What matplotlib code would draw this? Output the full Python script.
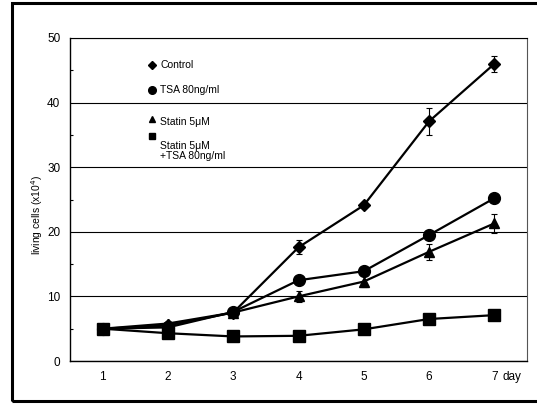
import matplotlib.pyplot as plt
import numpy as np

plt.rcParams['font.family'] = ['Liberation Sans', 'DejaVu Sans']

# days and living cell counts (x10^4)
days = [1, 2, 3, 4, 5, 6, 7]
control = [5.0, 5.5, 7.5, 17.6, 24.1, 37.1, 46.0]
control_err = [0.2, 0.3, 0.3, 1.1, 0.4, 2.1, 1.2]
tsa = [5.0, 5.2, 7.6, 12.5, 13.9, 19.5, 25.2]
tsa_err = [0.2, 0.2, 0.3, 0.5, 0.5, 0.5, 0.5]
statin = [5.0, 5.8, 7.5, 10.0, 12.3, 16.9, 21.3]
statin_err = [0.2, 0.3, 0.3, 0.8, 0.9, 1.2, 1.5]
combo = [5.0, 4.3, 3.8, 3.9, 4.9, 6.5, 7.1]
combo_err = [0.2, 0.2, 0.2, 0.2, 0.2, 0.2, 0.2]

labels = ['Control', 'TSA 80ng/ml', 'Statin 5\u03bcM', 'Statin 5\u03bcM\n+TSA 80ng/ml']

fig = plt.figure(figsize=(5.37, 4.05), dpi=100)
ax = fig.add_axes([70/537, 44/405, 457/537, 323/405])

series = [(control, control_err, 'D', 6.5),
          (tsa, tsa_err, 'o', 8.5),
          (statin, statin_err, '^', 7.5),
          (combo, combo_err, 's', 8.5)]
for vals, err, mk, ms in series:
    ax.errorbar(days, vals, yerr=err, color='black', lw=1.6, marker=mk, ms=ms,
                ecolor='black', elinewidth=0.8, capsize=2, capthick=0.8, zorder=3)

ax.set_xlim(0.5, 7.5)
ax.set_ylim(0, 50)
ax.set_yticks([0, 10, 20, 30, 40, 50])
ax.set_yticks([5, 15, 25, 35, 45], minor=True)
ax.set_xticks(days)
ax.set_xticklabels([str(d) for d in days])
ax.tick_params(axis='x', length=0, pad=7, labelsize=8.5)
ax.tick_params(axis='y', which='major', length=0, pad=7, labelsize=8.5)
ax.tick_params(axis='y', which='minor', direction='in', length=2.5, width=0.8)
ax.yaxis.grid(True, which='major', color='black', lw=0.8)
ax.set_axisbelow(True)
ax.spines['left'].set_linewidth(1.0)
ax.spines['bottom'].set_linewidth(1.0)
ax.spines['top'].set_linewidth(0.8)
ax.spines['right'].set_color('#555555')
ax.spines['right'].set_linewidth(0.8)

ax.annotate('day', xy=(7.13, 0), xycoords=('data', 'axes fraction'),
            xytext=(0, -7), textcoords='offset points',
            fontsize=8.5, ha='left', va='top')

# legend drawn by hand
leg_mk = [('D', 4, 0.916), ('o', 5.5, 0.839), ('^', 5, 0.748), ('s', 5, 0.697)]
leg_txt = [0.916, 0.839, 0.740, 0.650]
for (mk, ms, y), ty, lab in zip(leg_mk, leg_txt, labels):
    ax.plot([0.179], [y], marker=mk, ms=ms, color='black', transform=ax.transAxes)
    ax.text(0.197, ty, lab, fontsize=7.5, ha='left', va='center',
            transform=ax.transAxes, linespacing=1.1)

fig.text(37/537, 1 - 215/405, 'living cells (x10$^4$)', rotation=90,
         fontsize=7.5, ha='center', va='center')

# outer frame
fig.add_artist(plt.Rectangle((12/537, 4/405), 1.2, 398/405, transform=fig.transFigure,
                             fill=False, lw=2.2, edgecolor='black'))

fig.savefig('out.png', dpi=100)
